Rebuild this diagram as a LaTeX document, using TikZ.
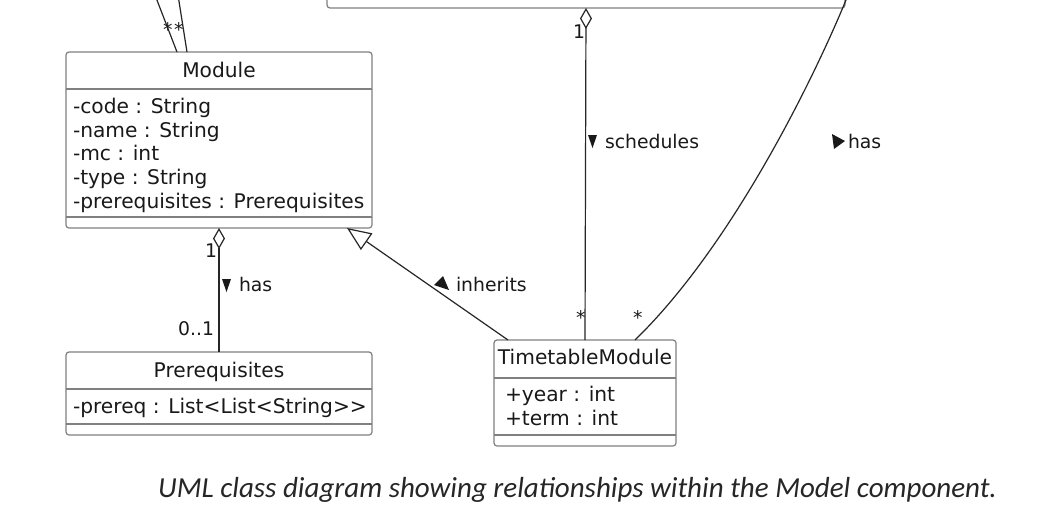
\documentclass[tikz,border=0pt]{standalone}
\usepackage{fontspec}
\setmainfont{DejaVu Sans}[Ligatures={NoCommon}]
\newfontfamily\capfont{Carlito}
\usetikzlibrary{arrows.meta,calc}
\begin{document}
\begin{tikzpicture}[x=1pt,y=-1pt,
  umlbox/.style={draw=black!50, line width=1.2pt, rounded corners=3pt, fill=white, inner sep=0pt, outer sep=0pt},
  sepline/.style={draw=black!50, line width=1.2pt},
  conn/.style={draw=black!85, line width=1.2pt},
  txt/.style={inner sep=0pt, outer sep=0pt, anchor=base west, font=\fontsize{20.2}{21}\selectfont, text=black!90},
  cname/.style={inner sep=0pt, outer sep=0pt, anchor=base, font=\fontsize{20.2}{21}\selectfont, text=black!90},
  lbl/.style={inner sep=0pt, outer sep=0pt, anchor=base west, font=\fontsize{18.8}{19}\selectfont, text=black!90},
  dirmark/.style={fill=black!90, draw=none},
  odiamond/.style={{Diamond[open,length=21pt,width=12pt,line width=1.2pt]}-},
  otriangle/.style={-{Triangle[open,length=24pt,width=20pt,line width=1.2pt]}}
]
\useasboundingbox (0,0) rectangle (1042,523);
\fill[white] (0,0) rectangle (1042,523);

% boxes
\node[umlbox, anchor=south west, minimum width=518pt, minimum height=60pt] (topbox) at (327,8) {};
\node[umlbox, anchor=north west, minimum width=306pt, minimum height=176pt] (module) at (66,52) {};
\node[umlbox, anchor=north west, minimum width=306pt, minimum height=83pt] (prereq) at (66,352) {};
\node[umlbox, anchor=north west, minimum width=182pt, minimum height=106pt] (tm) at (494,340) {};

% separators
\draw[sepline] (66,89) -- (372,89);
\draw[sepline] (66,217) -- (372,217);
\draw[sepline] (66,389) -- (372,389);
\draw[sepline] (66,424) -- (372,424);
\draw[sepline] (494,378) -- (676,378);
\draw[sepline] (494,435) -- (676,435);

% class texts
\node[cname] (moduleName) at (219,77) {Module};
\node[txt] (a1) at (73,113) {-code : String};
\node[txt] (a2) at (73,137) {-name : String};
\node[txt] (a3) at (73,160) {-mc : int};
\node[txt] (a4) at (73,184) {-type : String};
\node[txt] (a5) at (73,208) {-prerequisites : Prerequisites};

\node[cname] (prereqName) at (219,377) {Prerequisites};
\node[txt] (p1) at (73,413) {-prereq : List<List<String{>}{>}};

\node[cname] (tmName) at (585,364) {TimetableModule};
\node[txt] (t1) at (505,401) {+year : int};
\node[txt] (t2) at (505,425) {+term : int};

% connector end points
\coordinate (u1) at (155,-5);
\coordinate (u2) at (178,-5);
\coordinate (m1) at ($(module.north west)+(111,0)$);
\coordinate (m2) at ($(module.north west)+(121,0)$);
\coordinate (inhStart) at ($(tm.north west)+(14,0)$);
\coordinate (inhEnd) at ($(module.south east)+(-25,0)$);
\coordinate (hasStart) at (848,-5);
\coordinate (tmHas) at ($(tm.north west)+(141,0)$);

% connectors
\draw[conn] (u1) -- (m1);
\draw[conn] (u2) -- (m2);
\draw[conn, odiamond] (module.south) -- (prereq.north);
\draw[conn, odiamond] (topbox.south) -- (tm.north);
\draw[conn, otriangle] (inhStart) -- (inhEnd);
\draw[conn] (hasStart) .. controls (822,60) and (738,240) .. (tmHas);

% multiplicities
\node[lbl] (s1) at (163,36) {*};
\node[lbl] (s2) at (174,36) {*};
\node[lbl, anchor=base east] (one1) at (585,38) {1};
\node[lbl, anchor=base east] (one2) at (217,257) {1};
\node[lbl, anchor=base east] (zo) at (214,335) {0..1};
\node[lbl] (s3) at (576,324) {*};
\node[lbl] (s4) at (633,324) {*};

% relation labels
\fill[dirmark] (588,135) -- (597,135) -- (592.5,148) -- cycle;
\node[lbl] (sched) at (605,148) {schedules};
\fill[dirmark] (832,134) -- (845,141) -- (834,149) -- cycle;
\node[lbl] (has2) at (848,148) {has};
\fill[dirmark] (222,279) -- (231,279) -- (226.5,292) -- cycle;
\node[lbl] (has1) at (239,291) {has};
\fill[dirmark] (434,285) -- (443,276) -- (449,290) -- cycle;
\node[lbl] (inh) at (456,291) {inherits};

% caption
\node[inner sep=0pt, anchor=base west, font=\capfont\itshape\fontsize{29}{32}\selectfont, text=black!85] (caption) at (158,497) {UML class diagram showing relationships within the Model component.};
\end{tikzpicture}
\end{document}
